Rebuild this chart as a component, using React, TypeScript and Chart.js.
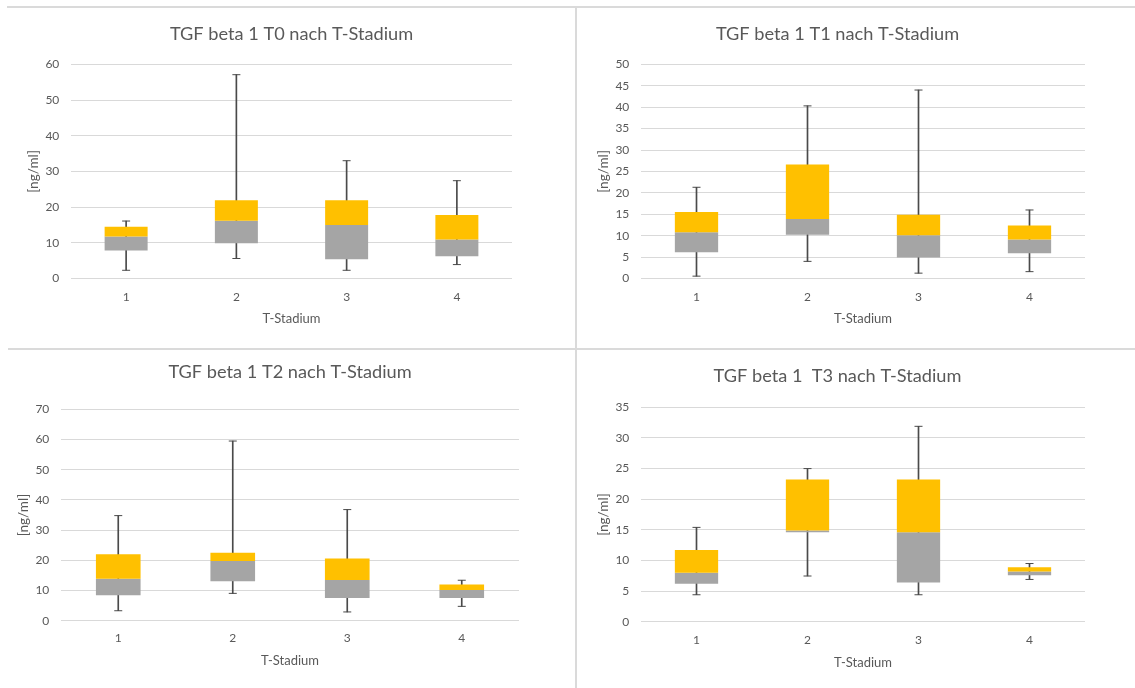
import React, { useEffect, useRef } from 'react';
import { Chart, registerables } from 'chart.js';

Chart.register(...registerables);

// ---------- data ----------
const categories = ['1', '2', '3', '4'];
const xAxisTitle = 'T-Stadium';
const yAxisTitle = '[ng/ml]';

const t0Title = 'TGF beta 1 T0 nach T-Stadium';
const t0Min = [2.3, 5.6, 2.3, 3.9];
const t0Q1 = [7.85, 9.9, 5.4, 6.2];
const t0Median = [11.8, 16.2, 15.0, 10.9];
const t0Q3 = [14.5, 21.9, 21.9, 17.8];
const t0Max = [16.1, 57.1, 33.0, 27.4];
const t0Ticks = { max: 60, step: 10 };

const t1Title = 'TGF beta 1 T1 nach T-Stadium';
const t1Min = [0.55, 4.0, 1.25, 1.6];
const t1Q1 = [6.15, 10.2, 4.9, 5.9];
const t1Median = [10.8, 13.9, 10.1, 9.1];
const t1Q3 = [15.5, 26.6, 14.9, 12.4];
const t1Max = [21.3, 40.3, 44.0, 16.0];
const t1Ticks = { max: 50, step: 5 };

const t2Title = 'TGF beta 1 T2 nach T-Stadium';
const t2Min = [3.3, 9.05, 2.9, 4.75];
const t2Q1 = [8.4, 13.1, 7.5, 7.5];
const t2Median = [13.9, 19.8, 13.5, 10.2];
const t2Q3 = [22.0, 22.5, 20.6, 12.0];
const t2Max = [34.8, 59.5, 36.8, 13.4];
const t2Ticks = { max: 70, step: 10 };

const t3Title = 'TGF beta 1  T3 nach T-Stadium';
const t3Min = [4.4, 7.46, 4.4, 6.9];
const t3Q1 = [6.2, 14.6, 6.4, 7.6];
const t3Median = [8.0, 14.9, 14.6, 8.2];
const t3Q3 = [11.7, 23.2, 23.2, 8.9];
const t3Max = [15.4, 25.0, 31.9, 9.5];
const t3Ticks = { max: 35, step: 5 };

// ---------- styles ----------
const FONT = 'Lato, "Open Sans", sans-serif';
const TEXT = '#595959';
const GRID = '#D9D9D9';
const YELLOW = '#FFC000';
const GRAY = '#A5A5A5';
const WHISKER = '#4A4A4A';
const SEP = '#DADADA';
const TITLE_SIZE = 18.2;

type Layout = {
  x0: number; y0: number; w: number; h: number;
  pl: number; pr: number; yW: number; xH: number;
  titleFull: boolean; titlePadTop: number; titlePadBottom: number;
  yTitlePad: number; xTickPad: number; xTitlePad: number;
};

type PanelDef = {
  title: string; min: number[]; q1: number[]; median: number[]; q3: number[]; max: number[];
  ticks: { max: number; step: number };
  layout: Layout;
};

const panels: PanelDef[] = [
  {
    title: t0Title, min: t0Min, q1: t0Q1, median: t0Median, q3: t0Q3, max: t0Max, ticks: t0Ticks,
    layout: { x0: 0, y0: 0, w: 575, h: 347, pl: 0, pr: 63, yW: 71, xH: 68.5, titleFull: false,
      titlePadTop: 23.2, titlePadBottom: 19.3, yTitlePad: 25.5, xTickPad: 11, xTitlePad: 19.9 },
  },
  {
    title: t1Title, min: t1Min, q1: t1Q1, median: t1Median, q3: t1Q3, max: t1Max, ticks: t1Ticks,
    layout: { x0: 578, y0: 0, w: 557, h: 347, pl: 12, pr: 50, yW: 51, xH: 68.5, titleFull: true,
      titlePadTop: 23.2, titlePadBottom: 19.3, yTitlePad: 5.5, xTickPad: 11, xTitlePad: 19.9 },
  },
  {
    title: t2Title, min: t2Min, q1: t2Q1, median: t2Median, q3: t2Q3, max: t2Max, ticks: t2Ticks,
    layout: { x0: 0, y0: 350, w: 575, h: 338, pl: 0, pr: 56, yW: 61, xH: 67.3, titleFull: false,
      titlePadTop: 11.6, titlePadBottom: 25.9, yTitlePad: 15.5, xTickPad: 9.8, xTitlePad: 19.2 },
  },
  {
    title: t3Title, min: t3Min, q1: t3Q1, median: t3Median, q3: t3Q3, max: t3Max, ticks: t3Ticks,
    layout: { x0: 578, y0: 350, w: 557, h: 338, pl: 12, pr: 50, yW: 51, xH: 66.3, titleFull: true,
      titlePadTop: 14.9, titlePadBottom: 20.6, yTitlePad: 5.5, xTickPad: 11.4, xTitlePad: 16.9 },
  },
];

function BoxPanel({ def }: { def: PanelDef }) {
  const ref = useRef<HTMLCanvasElement | null>(null);
  const L = def.layout;
  useEffect(() => {
    if (!ref.current) return;
    const barCommon = { grouped: false, barPercentage: 0.39, categoryPercentage: 1, borderWidth: 0 };
    const capCommon = {
      type: 'line' as const, showLine: false, pointStyle: 'line', pointRadius: 4, pointHoverRadius: 4,
      pointBorderColor: WHISKER, pointBackgroundColor: WHISKER, pointBorderWidth: 1,
      borderColor: WHISKER, order: 0,
    };
    const chart = new Chart(ref.current, {
      type: 'bar',
      data: {
        labels: categories,
        datasets: [
          { label: 'Median–Q3', data: categories.map((_, i) => [def.median[i], def.q3[i]]), backgroundColor: YELLOW, order: 1, ...barCommon } as any,
          { label: 'Q1–Median', data: categories.map((_, i) => [def.q1[i], def.median[i]]), backgroundColor: GRAY, order: 1, ...barCommon } as any,
          { label: 'Whisker', data: categories.map((_, i) => [def.min[i], def.max[i]]), backgroundColor: WHISKER, order: 2, grouped: false, barThickness: 1, borderWidth: 0 } as any,
          { label: 'Max', data: def.max, ...capCommon } as any,
          { label: 'Min', data: def.min, ...capCommon } as any,
        ],
      },
      options: {
        animation: false,
        responsive: false,
        events: [],
        layout: { padding: { left: L.pl, right: L.pr, top: 0, bottom: 0 } },
        plugins: {
          legend: { display: false },
          tooltip: { enabled: false },
          title: {
            display: true, text: def.title, color: TEXT, fullSize: L.titleFull,
            font: { family: FONT, size: TITLE_SIZE, weight: 'normal' },
            padding: { top: L.titlePadTop, bottom: L.titlePadBottom },
          },
        },
        scales: {
          x: {
            grid: { display: false, drawTicks: false },
            border: { display: false },
            ticks: { color: TEXT, font: { family: FONT, size: 12 }, padding: L.xTickPad },
            title: { display: true, text: xAxisTitle, color: TEXT, font: { family: FONT, size: 13 }, padding: { top: 0, bottom: L.xTitlePad } },
            afterFit: (s: any) => { s.height = L.xH; },
          },
          y: {
            min: 0, max: def.ticks.max,
            grid: { color: GRID, drawTicks: false, lineWidth: 1 },
            border: { display: false },
            ticks: { stepSize: def.ticks.step, color: TEXT, font: { family: FONT, size: 12 }, padding: 11.7 },
            title: { display: true, text: yAxisTitle, color: TEXT, font: { family: FONT, size: 13.5 }, padding: { top: L.yTitlePad, bottom: 0 } },
            afterFit: (s: any) => { s.width = L.yW; },
          },
        },
      } as any,
    });
    return () => chart.destroy();
  }, [def]);
  return (
    <canvas
      ref={ref}
      width={L.w}
      height={L.h}
      style={{ position: 'absolute', left: L.x0, top: L.y0, width: L.w, height: L.h }}
    />
  );
}

export default function App() {
  return (
    <div style={{ position: 'absolute', left: 0, top: 0, width: 1135, height: 688, background: '#fff', overflow: 'hidden' }}>
      <div style={{ position: 'absolute', left: 7, top: 6, width: 1128, height: 2, background: SEP }} />
      <div style={{ position: 'absolute', left: 575, top: 6, width: 2, height: 682, background: SEP }} />
      <div style={{ position: 'absolute', left: 8, top: 348, width: 1127, height: 2, background: SEP }} />
      {panels.map((p, i) => <BoxPanel key={i} def={p} />)}
    </div>
  );
}
